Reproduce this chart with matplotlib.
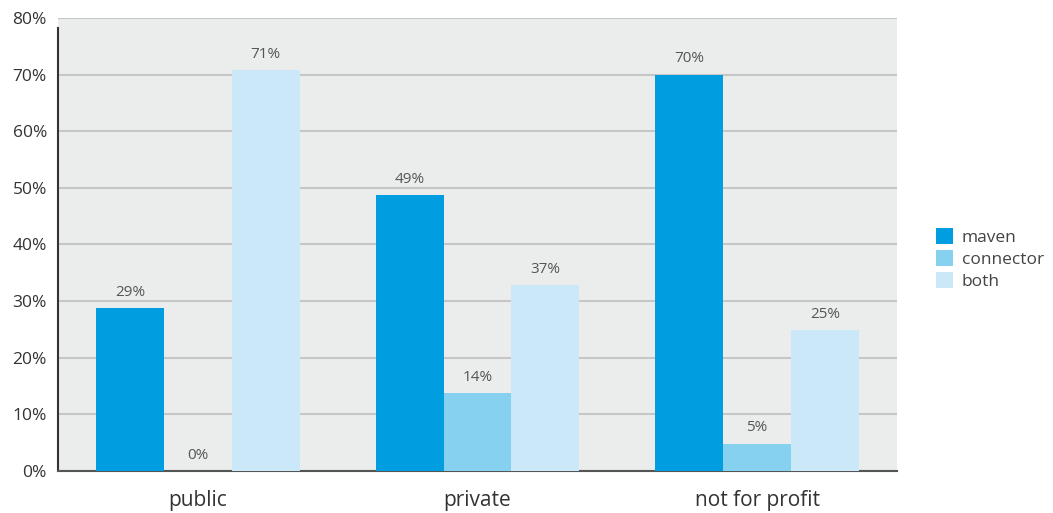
import matplotlib.pyplot as plt
import numpy as np

# Data
categories = ['public', 'private', 'not for profit']
series = ['maven', 'connector', 'both']
maven = [28.8, 48.7, 70.0]
connector = [0.0, 13.8, 4.8]
both = [70.8, 32.8, 24.9]
# printed labels (as shown on the chart)
maven_labels = ['29%', '49%', '70%']
connector_labels = ['0%', '14%', '5%']
both_labels = ['71%', '37%', '25%']

colors = ['#009EE0', '#87D1F0', '#CAE8F8']

plt.rcParams['font.family'] = ['Open Sans', 'DejaVu Sans']

fig = plt.figure(figsize=(10.53, 5.13), dpi=100)
ax = fig.add_axes([0.0551, 0.0819, 0.7967, 0.8831])
ax.set_facecolor('#EBECEC')

x = np.arange(len(categories))
width = 0.243
values = [maven, connector, both]
labels = [maven_labels, connector_labels, both_labels]

for i, (vals, labs) in enumerate(zip(values, labels)):
    pos = x + (i - 1) * width
    bars = ax.bar(pos, vals, width, color=colors[i], label=series[i], zorder=3)
    for b, lab in zip(bars, labs):
        ax.annotate(lab, (b.get_x() + b.get_width() / 2, b.get_height()),
                    xytext=(0, 6), textcoords='offset points',
                    ha='center', va='bottom', fontsize=11, color='#555555')

ax.set_xlim(-0.5, 2.5)
ax.set_ylim(0, 80)
ax.set_yticks(range(0, 81, 10))
ax.set_yticklabels([f'{v}%' for v in range(0, 81, 10)], fontsize=12.5, color='#333333')
ax.set_xticks(x)
ax.set_xticklabels(categories, fontsize=15, color='#333333')
ax.tick_params(axis='both', length=0)
ax.tick_params(axis='x', pad=14)
ax.tick_params(axis='y', pad=8)
ax.grid(axis='y', color='#C6C6C6', linewidth=1.5, zorder=0)

for s in ['top', 'right']:
    ax.spines[s].set_visible(False)
ax.spines['left'].set_color('#333333')
ax.spines['left'].set_linewidth(1.5)
ax.spines['left'].set_bounds(0, 78.3)
ax.spines['bottom'].set_color('#555555')
ax.spines['bottom'].set_linewidth(1.5)

fig.legend(loc='center left', bbox_to_anchor=(0.874, 0.495), frameon=False,
           fontsize=12.5, handlelength=1.0, handleheight=1.0, handletextpad=0.5,
           labelspacing=0.25, labelcolor='#444444')

fig.savefig('out.png', dpi=100)
